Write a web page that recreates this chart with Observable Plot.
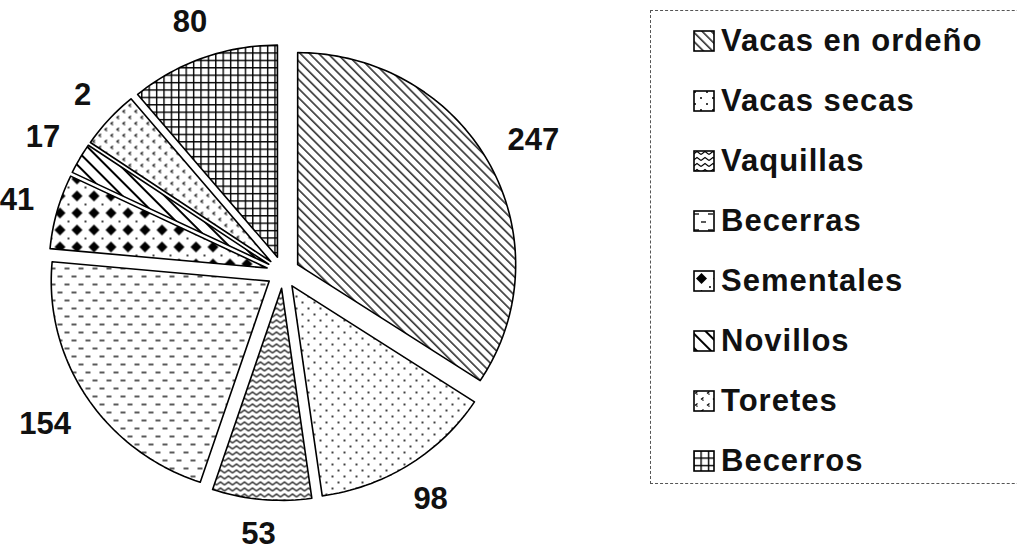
<!DOCTYPE html>
<html>
<head>
<meta charset="utf-8">
<script src="https://cdn.jsdelivr.net/npm/d3@7"></script>
<script src="https://cdn.jsdelivr.net/npm/@observablehq/plot@0.6"></script>
<style>
  body { margin: 0; background: #fff; }
  #wrap { position: relative; width: 1017px; height: 547px; overflow: hidden; font-family: "Liberation Sans", Arial, sans-serif; }
  #legend { position: absolute; left: 650px; top: 10px; width: 420px; height: 474px; border: 1px dashed #555; box-sizing: border-box; }
  .item { position: absolute; left: 42px; height: 40px; display: flex; align-items: center; font-weight: bold; font-size: 31px; letter-spacing: 1px; color: #111; white-space: nowrap; }
  .item svg { margin-right: 6px; flex: none; }
</style>
</head>
<body>
<svg width="0" height="0" style="position:absolute">
  <defs>
    <pattern id="pat0" patternUnits="userSpaceOnUse" width="6.5" height="6.5" patternTransform="rotate(45)">
      <line x1="0" y1="1" x2="6.5" y2="1" stroke="#000" stroke-width="1.3"/>
    </pattern>
    <pattern id="pat1" patternUnits="userSpaceOnUse" width="12" height="12">
      <circle cx="2" cy="2" r="1" fill="#000"/>
      <circle cx="8" cy="8" r="1" fill="#000"/>
    </pattern>
    <pattern id="pat2" patternUnits="userSpaceOnUse" width="8" height="6">
      <path d="M0,4.5 L4,1.5 L8,4.5" fill="none" stroke="#000" stroke-width="1.1"/>
    </pattern>
    <pattern id="pat3" patternUnits="userSpaceOnUse" width="14" height="16">
      <line x1="1" y1="4" x2="6" y2="4" stroke="#000" stroke-width="1.3"/>
      <line x1="8" y1="12" x2="13" y2="12" stroke="#000" stroke-width="1.3"/>
    </pattern>
    <pattern id="pat4" patternUnits="userSpaceOnUse" width="17" height="17">
      <path d="M8.5,3 L14,8.5 L8.5,14 L3,8.5 Z" fill="#000"/>
      <circle cx="0" cy="0" r="1" fill="#000"/>
      <circle cx="17" cy="0" r="1" fill="#000"/>
      <circle cx="0" cy="17" r="1" fill="#000"/>
      <circle cx="17" cy="17" r="1" fill="#000"/>
    </pattern>
    <pattern id="pat5" patternUnits="userSpaceOnUse" width="10" height="10" patternTransform="rotate(45)">
      <line x1="0" y1="2" x2="10" y2="2" stroke="#000" stroke-width="2"/>
    </pattern>
    <pattern id="pat6" patternUnits="userSpaceOnUse" width="12" height="12">
      <path d="M4.5,1.5 L2.5,3 L4.5,4.5" fill="none" stroke="#000" stroke-width="1.2"/>
      <path d="M10.5,7.5 L8.5,9 L10.5,10.5" fill="none" stroke="#000" stroke-width="1.2"/>
    </pattern>
    <pattern id="pat7" patternUnits="userSpaceOnUse" width="7.4" height="7.4">
      <line x1="0.7" y1="0" x2="0.7" y2="7.4" stroke="#000" stroke-width="1.4"/>
      <line x1="0" y1="0.7" x2="7.4" y2="0.7" stroke="#000" stroke-width="1.4"/>
    </pattern>
  </defs>
</svg>
<div id="wrap">
  <div id="legend"></div>
</div>
<script>
// ---- data ----
const categories = ["Vacas en ordeño", "Vacas secas", "Vaquillas", "Becerras", "Sementales", "Novillos", "Toretes", "Becerros"];
// slice sizes (the Toretes label reads "2" in the scan, its slice spans ~16°)
const values = [247, 98, 53, 154, 41, 17, 32, 80];
// data labels as printed in the reference
const labelTexts = ["247", "98", "53", "154", "41", "17", "2", "80"];
const patterns = ["url(#pat0)", "url(#pat1)", "url(#pat2)", "url(#pat3)", "url(#pat4)", "url(#pat5)", "url(#pat6)", "url(#pat7)"];

// ---- geometry (unit pie, angles clockwise from 12 o'clock) ----
const cx = 282.6, cy = 271.8, Rx = 218, Ry = 212;
const explode = 0.076;
const labelFont = 31, labelGap = 22;
const arcs = d3.pie().sort(null).value(d => d)(values);

const slicePoints = [];
const labels = [];
arcs.forEach((a, i) => {
  const mid = (a.startAngle + a.endAngle) / 2;
  const s = Math.sin(mid), c = Math.cos(mid);
  const ox = explode * s, oy = explode * c;
  slicePoints.push({slice: i, x: ox, y: oy, fill: patterns[i]});
  const n = Math.max(2, Math.ceil((a.endAngle - a.startAngle) / (2 * Math.PI) * 240));
  for (let k = 0; k <= n; k++) {
    const t = a.startAngle + (a.endAngle - a.startAngle) * k / n;
    slicePoints.push({slice: i, x: ox + Math.sin(t), y: oy + Math.cos(t), fill: patterns[i]});
  }
  // place the label just outside the arc, accounting for its own extent along the radius
  const halfW = labelTexts[i].length * 0.556 * labelFont / 2, halfH = 0.36 * labelFont;
  const extent = Math.abs(s) * halfW + Math.abs(c) * halfH;
  const kx = (1 + explode) + (labelGap + extent) / Rx;
  const ky = (1 + explode) + (labelGap + extent) / Ry;
  labels.push({x: kx * s, y: ky * c, text: labelTexts[i]});
});

const chart = Plot.plot({
  width: 1017,
  height: 547,
  margin: 0,
  x: {domain: [-1, 1], range: [cx - Rx, cx + Rx], axis: null},
  y: {domain: [-1, 1], range: [cy + Ry, cy - Ry], axis: null},
  color: {type: "identity"},
  style: {background: "transparent", fontFamily: "'Liberation Sans', Arial, sans-serif"},
  marks: [
    Plot.line(slicePoints, {x: "x", y: "y", z: "slice", fill: "fill", stroke: "#000", strokeWidth: 1.6, curve: "linear-closed"}),
    Plot.text(labels, {x: "x", y: "y", text: "text", fontSize: labelFont, fontWeight: "bold", fill: "#111"})
  ]
});
const wrap = document.getElementById("wrap");
wrap.insertBefore(chart, wrap.firstChild);

// ---- legend ----
const legend = document.getElementById("legend");
categories.forEach((c, i) => {
  const item = document.createElement("div");
  item.className = "item";
  item.style.top = (10 + i * 60) + "px";
  item.innerHTML = `<svg width="22" height="22"><rect x="1" y="1" width="20" height="20" fill="${patterns[i]}" stroke="#000" stroke-width="1.6"/></svg><span>${c}</span>`;
  legend.appendChild(item);
});
</script>
</body>
</html>
